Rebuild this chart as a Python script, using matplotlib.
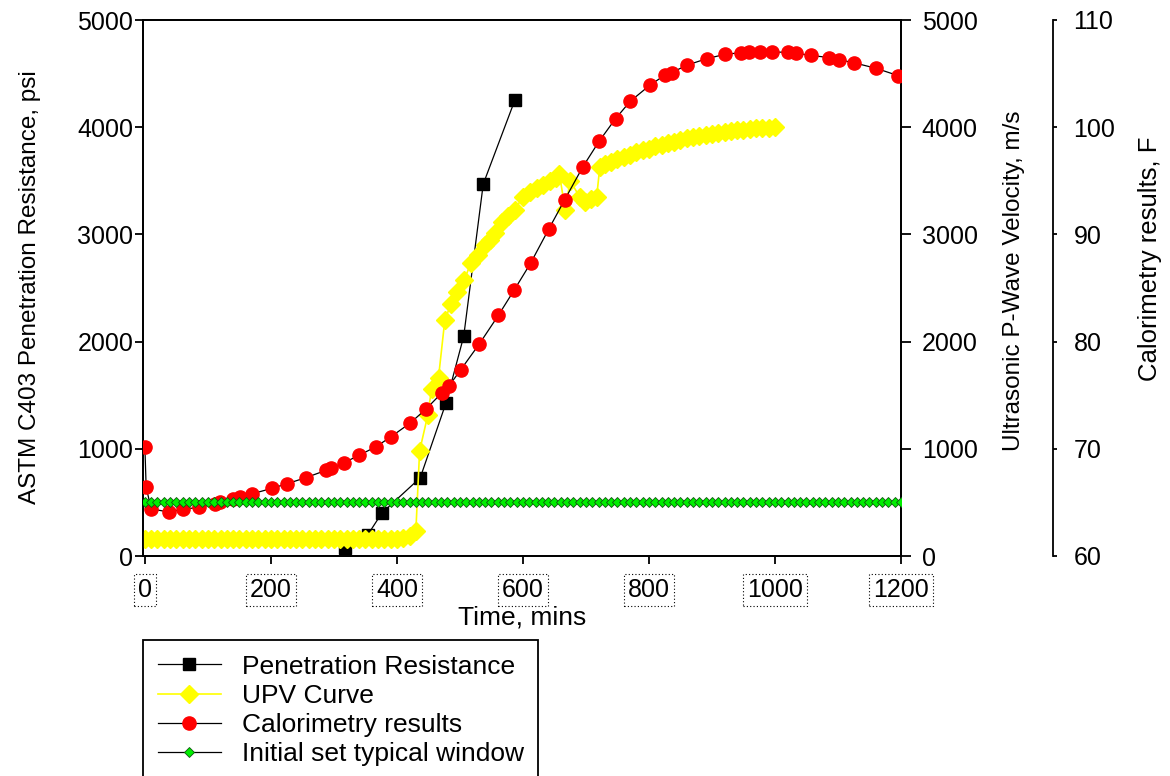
#!/usr/bin/env python

import matplotlib
matplotlib.use('Agg')
import matplotlib.pyplot as plt
from matplotlib.lines import Line2D

plt.rcParams['font.family'] = ['Liberation Sans', 'DejaVu Sans']

# penetration resistance (psi) vs time (min)
pen_time = [317, 354, 376, 437, 478, 506, 537, 587]
pen_psi = [75, 200, 400, 730, 1430, 2050, 3470, 4250]

# ultrasonic P-wave velocity (m/s)
upv_time = [0, 10, 20, 30, 40, 50, 60, 70, 80, 90, 100, 110, 120, 130, 140,
            150, 160, 170, 180, 190, 200, 210, 220, 230, 240, 250, 260, 270,
            280, 290, 300, 310, 320, 330, 340, 350, 360, 370, 380, 390, 400,
            410, 420, 430, 436, 449, 455, 466, 476, 486, 495, 507, 517, 528,
            540, 548, 556, 566, 577, 587, 600, 611, 622, 632, 643, 653, 658,
            667, 675, 690, 698, 708, 717, 722, 730, 740, 750, 760, 770, 780,
            790, 800, 810, 820, 830, 840, 850, 860, 870, 880, 890, 900, 910,
            920, 930, 940, 950, 960, 970, 980, 990, 1000]
upv_ms = [155, 155, 155, 155, 155, 155, 155, 155, 155, 155, 155, 155, 155,
          155, 155, 155, 155, 155, 155, 155, 155, 155, 155, 155, 155, 155,
          155, 155, 155, 155, 155, 155, 155, 155, 155, 155, 155, 155, 155,
          155, 158, 165, 185, 230, 980, 1315, 1560, 1665, 2200, 2355, 2460,
          2575, 2730, 2810, 2900, 2950, 3010, 3120, 3175, 3230, 3350, 3400,
          3430, 3460, 3500, 3530, 3560, 3230, 3500, 3350, 3305, 3330, 3350,
          3630, 3655, 3680, 3705, 3725, 3745, 3765, 3785, 3800, 3820, 3835,
          3850, 3865, 3880, 3895, 3905, 3918, 3930, 3940, 3950, 3958, 3965,
          3972, 3978, 3983, 3988, 3992, 3996, 4000]

# calorimetry (F)
cal_time = [0, 2, 10, 38, 61, 86, 111, 119, 140, 151, 170, 201, 226, 255, 288,
            296, 316, 340, 367, 390, 421, 446, 471, 483, 501, 531, 561, 586,
            612, 641, 666, 695, 721, 747, 770, 801, 825, 836, 861, 892, 921,
            946, 958, 976, 996, 1021, 1033, 1057, 1085, 1102, 1126, 1160, 1196]
cal_f = [70.2, 66.4, 64.4, 64.1, 64.35, 64.55, 64.85, 65.05, 65.35, 65.5, 65.8,
         66.3, 66.75, 67.3, 68.0, 68.2, 68.7, 69.4, 70.2, 71.1, 72.4, 73.7,
         75.2, 75.9, 77.35, 79.8, 82.45, 84.8, 87.3, 90.5, 93.2, 96.3, 98.7,
         100.8, 102.4, 103.9, 104.85, 105.1, 105.8, 106.4, 106.8, 106.95,
         107.0, 107.0, 107.0, 107.0, 106.9, 106.7, 106.5, 106.3, 106.0, 105.5,
         104.8]

# initial set typical window (psi)
set_time = list(range(0, 1201, 10))
set_psi = [500] * len(set_time)

x_ticks = [0, 200, 400, 600, 800, 1000, 1200]
y_ticks = [0, 1000, 2000, 3000, 4000, 5000]
f_ticks = [60, 70, 80, 90, 100, 110]

fig = plt.figure(figsize=(11.7, 7.76), dpi=100)
ax = fig.add_axes([143 / 1170, 1 - 556 / 776, 758 / 1170, 536 / 776])
ax2 = ax.twinx()
ax3 = ax.twinx()
ax4 = ax.twinx()

ax.plot(pen_time, pen_psi, color='black', lw=0.9, marker='s', ms=8,
        mfc='black', mec='black', label='Penetration Resistance')
ax2.plot(upv_time, upv_ms, color='#ffff00', lw=1.2, marker='D', ms=9,
         mfc='#ffff00', mec='#ffff00', label='UPV Curve')
ax3.plot(cal_time, cal_f, color='black', lw=0.9, marker='o', ms=9.5,
         mfc='#ff0000', mec='#ff0000', label='Calorimetry results')
ax4.plot(set_time, set_psi, color='black', lw=0.9, marker='D', ms=5,
         mfc='#00ee00', mec='#115511', mew=0.6, label='Initial set typical window')

ax.set_xlim(-3, 1200)
for a in (ax, ax2, ax4):
    a.set_ylim(0, 5000)
ax3.set_ylim(60, 110)

ax.set_xticks(x_ticks)
ax.set_yticks(y_ticks)
ax2.set_yticks(y_ticks)
ax3.set_yticks(f_ticks)
ax4.axis('off')

for s in ax.spines.values():
    s.set_linewidth(1.3)
for s in ax2.spines.values():
    s.set_linewidth(1.3)
ax3.spines['right'].set_position(('axes', 1.2))
for k in ('top', 'bottom', 'left'):
    ax3.spines[k].set_visible(False)
ax3.spines['right'].set_linewidth(1.3)

ax.tick_params(axis='both', direction='out', length=6, width=1.3, labelsize=18)
ax.tick_params(axis='y', pad=1)
ax.tick_params(axis='x', pad=10)
ax2.tick_params(axis='y', direction='out', length=7, width=1.3, labelsize=18, pad=8)
ax3.tick_params(axis='y', direction='out', length=3, width=1.3, labelsize=18, pad=12)

for lbl in ax.get_xticklabels():
    lbl.set_bbox(dict(boxstyle='square,pad=0.15', fc='none', ec='black',
                      ls=(0, (1, 2)), lw=0.8))

ax.set_xlabel('Time, mins', fontsize=19, labelpad=2)
ax.set_ylabel('ASTM C403 Penetration Resistance, psi', fontsize=17.5)
ax2.set_ylabel('Ultrasonic P-Wave Velocity, m/s', fontsize=17.5)
ax3.set_ylabel('Calorimetry results, F', fontsize=18.5)
ax.yaxis.set_label_coords(-0.1346, 0.502)
ax2.yaxis.set_label_coords(1.1346, 0.513)
ax3.yaxis.set_label_coords(1.3127, 0.554)

handles = []
for a in (ax, ax2, ax3, ax4):
    handles += a.get_legend_handles_labels()[0]
labels = [h.get_label() for h in handles]
handles.append(Line2D([], [], linestyle='none'))
labels.append(' ')
leg = fig.legend(handles, labels, loc='upper left',
                 bbox_to_anchor=(143 / 1170, 1 - 640 / 776), fontsize=19,
                 numpoints=1, handlelength=2.4, handletextpad=0.8,
                 borderpad=0.55, borderaxespad=0, labelspacing=0.2,
                 fancybox=False, framealpha=1, edgecolor='black')
leg.get_frame().set_linewidth(1.3)

fig.savefig('out.png', dpi=100)
